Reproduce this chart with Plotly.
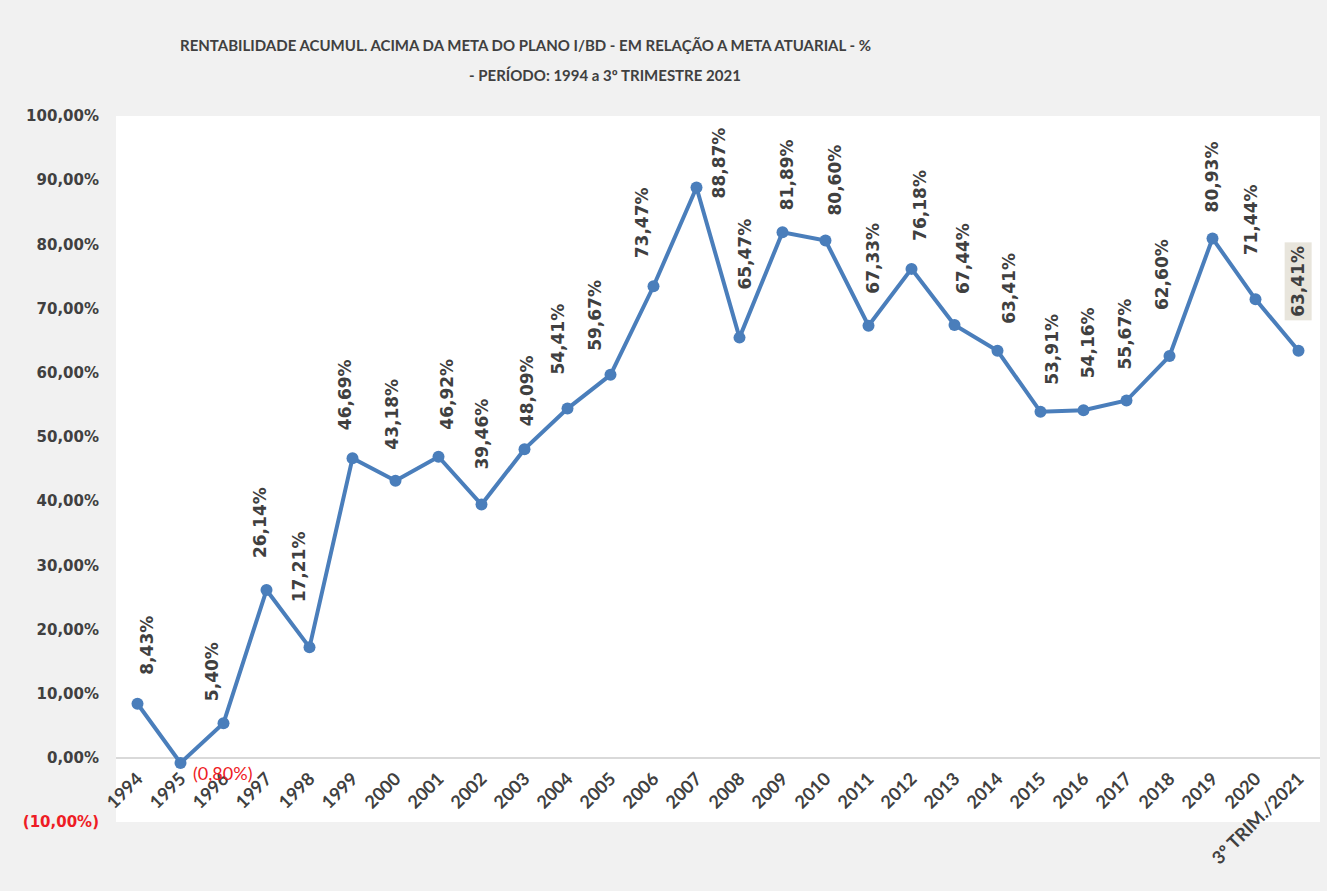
import plotly.graph_objects as go

# data
anos = ["1994", "1995", "1996", "1997", "1998", "1999", "2000", "2001", "2002",
        "2003", "2004", "2005", "2006", "2007", "2008", "2009", "2010", "2011",
        "2012", "2013", "2014", "2015", "2016", "2017", "2018", "2019", "2020",
        "3º TRIM./2021"]
rentab = [8.43, -0.80, 5.40, 26.14, 17.21, 46.69, 43.18, 46.92, 39.46, 48.09,
          54.41, 59.67, 73.47, 88.87, 65.47, 81.89, 80.60, 67.33, 76.18, 67.44,
          63.41, 53.91, 54.16, 55.67, 62.60, 80.93, 71.44, 63.41]
y_ticks = [-10, 0, 10, 20, 30, 40, 50, 60, 70, 80, 90, 100]

# label nudges (px) as Excel placed them: (dx, gap above point)
lbl_dx  = [10, 0, -12, -7, -11, -8, -3, 9, 1, 2, -9, -15, -12, 22, 6, 4, 10, 5,
           9, 9, 12, 12, 4, -1, -8, -1, -5, 0]
lbl_gap = [27, 0, 20, 30, 43, 26, 29, 25, 33, 21, 32, 22, 26, -13, 46, 20, 23, 30,
           26, 29, 25, 25, 30, 29, 44, 24, 42, 30]

def fmt(v):
    s = f"{abs(v):.2f}".replace(".", ",") + "%"
    return f"({s})" if v < 0 else s

BLUE = "#4A7EBB"
DARK = "#404040"
RED = "#EE1C25"
NARROW = "Lato, sans-serif"
WIDE = "DejaVu Sans, Verdana, sans-serif"

fig = go.Figure()
fig.add_trace(go.Scatter(
    x=anos, y=rentab, mode="lines+markers",
    line=dict(color=BLUE, width=4),
    marker=dict(color=BLUE, size=12),
    hoverinfo="skip", showlegend=False
))

for i, v in enumerate(rentab):
    if v < 0:
        fig.add_annotation(x=i, y=v, text=fmt(v), showarrow=False,
                           xanchor="left", yanchor="middle", xshift=10, yshift=-10,
                           font=dict(family=NARROW, size=18, color=RED))
        continue
    last = i == len(anos) - 1
    fig.add_annotation(x=i, y=v, text=fmt(v), showarrow=False, textangle=-90,
                       xanchor="center", yanchor="bottom",
                       xshift=lbl_dx[i], yshift=lbl_gap[i],
                       bgcolor="#E8E5DC" if last else "rgba(0,0,0,0)",
                       borderpad=3 if last else 1,
                       font=dict(family=WIDE, size=17, color=DARK, weight="bold"))

tick_txt = [f"<span style='color:{RED}'>{fmt(t)}</span>" if t < 0 else fmt(t)
            for t in y_ticks]

fig.add_annotation(xref="paper", yref="paper", x=(525 - 116) / 1204, y=1,
                   yshift=71, text="<b>RENTABILIDADE ACUMUL. ACIMA DA META DO PLANO I/BD - EM RELAÇÃO A META ATUARIAL - %</b>",
                   showarrow=False, xanchor="center", yanchor="middle",
                   font=dict(family=NARROW, size=15, color=DARK))
fig.add_annotation(xref="paper", yref="paper", x=(605 - 116) / 1204, y=1,
                   yshift=41, text="<b>- PERÍODO: 1994 a 3º TRIMESTRE 2021</b>",
                   showarrow=False, xanchor="center", yanchor="middle",
                   font=dict(family=NARROW, size=15, color=DARK))

fig.update_layout(
    width=1327, height=891,
    paper_bgcolor="#F1F1F1", plot_bgcolor="#FFFFFF",
    margin=dict(l=116, r=7, t=116, b=69),
    xaxis=dict(type="category", range=[-0.5, len(anos) - 0.5],
               anchor="free", position=10 / 110,
               tickangle=-45, showgrid=False, showline=False, ticks="",
               ticklabelstandoff=6,
               tickfont=dict(family=NARROW, size=18, color=DARK, weight="bold")),
    yaxis=dict(range=[-10, 100], tickvals=y_ticks, ticktext=tick_txt,
               showgrid=False, zeroline=True, zerolinecolor="#D9D9D9", zerolinewidth=1.5,
               ticklabelstandoff=16,
               tickfont=dict(family=WIDE, size=15, color=DARK, weight="bold")),
)

fig.write_html("out.html", post_script="document.body.style.margin='0';",
               config={"displayModeBar": False})
